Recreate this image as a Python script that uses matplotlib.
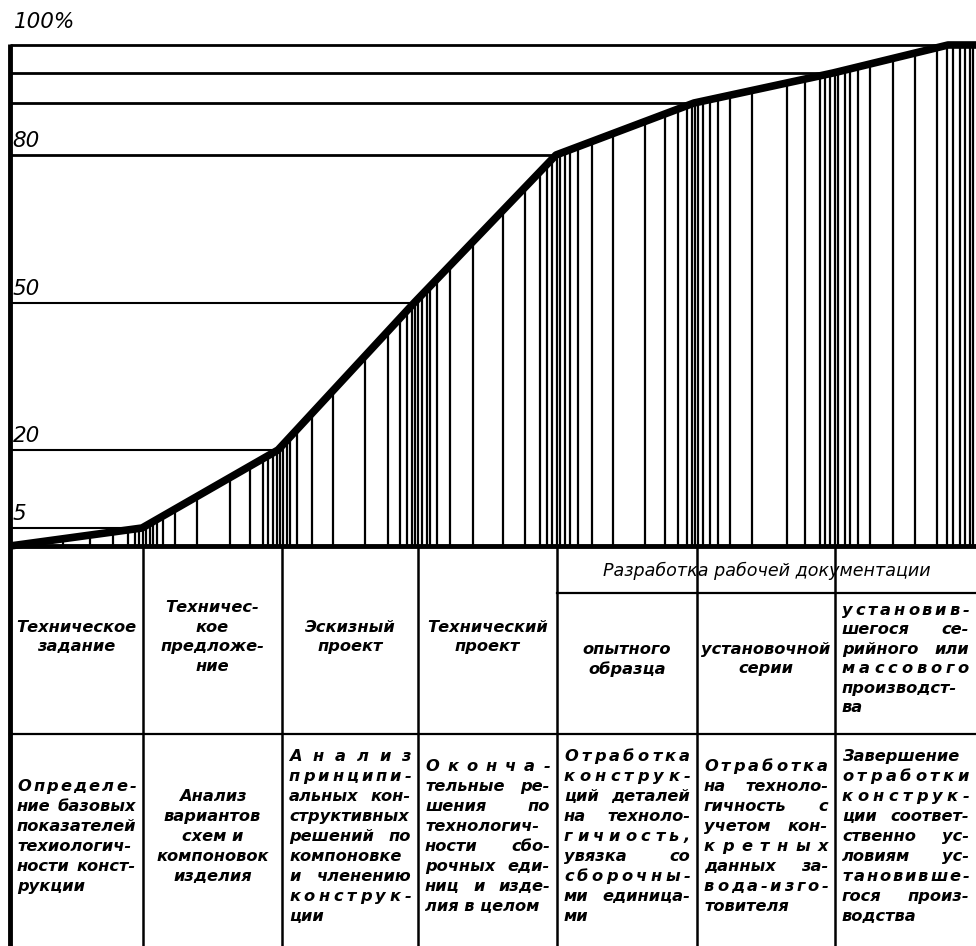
import numpy as np
import matplotlib
matplotlib.use("Agg")
import matplotlib.pyplot as plt

# ---------------- data ----------------
stage_bounds = [0, 133, 272, 408, 547, 687, 825, 966]          # stage borders (progress units)
curve_x = [0, 132, 268, 404, 546, 684, 823, 938, 966]
curve_y = [0, 5, 20, 50, 80, 90, 95, 100, 100]                  # % of technological elaboration
level_values = [0, 5, 20, 50, 80, 90, 95, 100]
level_heights = [0, 18, 96, 243, 391, 443, 473, 501]            # drawn (non-linear) height of each level
tick_values = [5, 20, 50, 80]
tick_labels = ["5", "20", "50", "80"]
top_label = "100%"
hatch_x = [53, 80, 103, 118, 125, 129, 133, 136,
           140, 143, 147, 153, 165, 187, 220, 240, 253, 258, 263, 267, 270, 273,
           277, 280, 287, 302, 323, 355, 378, 390, 397, 402, 405, 408, 412,
           417, 420, 427, 440, 463, 493, 515, 530, 537, 542, 547, 550,
           555, 560, 568, 582, 603, 635, 655, 668, 677, 682, 685, 688,
           693, 700, 708, 720, 742, 777, 795, 810, 815, 820, 825, 828,
           835, 840, 848, 860, 883, 905, 927, 937, 943, 950, 955, 960, 963]

row1_cells = [["Техническое", "задание"],
              ["Техничес-", "кое", "предложе-", "ние"],
              ["Эскизный", "проект"],
              ["Технический", "проект"]]
header_text = "Разработка рабочей документации"
row1_sub = [["опытного", "образца"],
            ["установочной", "серии"],
            ["установив-", "шегося се-", "рийного или", "массового", "производст-", "ва"]]
row2_cells = [["Определе-", "ние базовых", "показателей", "техиологич-", "ности конст-", "рукции"],
              ["Анализ", "вариантов", "схем и", "компоновок", "изделия"],
              ["Анализ", "принципи-", "альных кон-", "структивных", "решений по", "компоновке",
               "и членению", "конструк-", "ции"],
              ["Оконча-", "тельные ре-", "шения по", "технологич-", "ности сбо-", "рочных еди-",
               "ниц и изде-", "лия в целом"],
              ["Отработка", "конструк-", "ций деталей", "на техноло-", "гичиость,", "увязка со",
               "сборочны-", "ми единица-", "ми"],
              ["Отработка", "на техноло-", "гичность с", "учетом кон-", "кретных", "данных за-",
               "вода-изго-", "товителя"],
              ["Завершение", "отработки", "конструк-", "ции соответ-", "ственно ус-", "ловиям ус-",
               "тановивше-", "гося произ-", "водства"]]
row2_align = ["justify", "center", "justify", "justify", "justify", "justify", "justify"]

# ---------------- figure ----------------
W, H = 976, 946
fig = plt.figure(figsize=(W / 100, H / 100), dpi=100)
fig.patch.set_facecolor("white")

def px2fx(x):
    return x / W

def py2fy(y):
    return 1 - y / H

ax_left, ax_right, ax_top, ax_bot = 10, 976, 45, 546
ax = fig.add_axes([px2fx(ax_left), py2fy(ax_bot), (ax_right - ax_left) / W, (ax_bot - ax_top) / H])

fwd = lambda v: np.interp(v, level_values, level_heights)
inv = lambda p: np.interp(p, level_heights, level_values)
ax.set_yscale("function", functions=(fwd, inv))
ax.set_xlim(stage_bounds[0], stage_bounds[-1])
ax.set_ylim(0, 100)
ax.set_xticks([])
ax.set_yticks([])
for s in ax.spines.values():
    s.set_visible(False)

# horizontal level lines (from axis to curve)
for lv in level_values[1:]:
    if lv >= 100:
        xe = stage_bounds[-1]
    else:
        xe = float(np.interp(lv, curve_y[:-1], curve_x[:-1]))
    lw = 2.0 if lv >= 80 else 1.5
    ax.hlines(lv, 0, xe, color="black", lw=lw, clip_on=False, zorder=2)

# vertical hatching below the curve
hx = np.array(hatch_x, dtype=float)
hy = np.interp(hx, curve_x, curve_y)
ax.vlines(hx, 0, hy, color="black", lw=1.6, zorder=2)

# the curve
ax.plot(curve_x, curve_y, color="black", lw=5.5, solid_joinstyle="round",
        solid_capstyle="butt", clip_on=False, zorder=3)

# level labels
lab_kw = dict(fontfamily="DejaVu Sans", fontstyle="oblique", fontsize=15.5, color="black")
for v, t in zip(tick_values, tick_labels):
    ax.annotate(t, xy=(0, v), xytext=(2, 3), textcoords="offset points",
                ha="left", va="bottom", **lab_kw)
fig.text(px2fx(14), py2fy(22), top_label, ha="left", va="center", **lab_kw)

# ---------------- table / frame overlay ----------------
tax = fig.add_axes([0, 0, 1, 1], facecolor="none")
tax.set_xlim(0, W)
tax.set_ylim(H, 0)
tax.axis("off")

col_x = [b + ax_left for b in stage_bounds]
tax.plot([col_x[0], col_x[0]], [ax_top - 1, H], color="black", lw=3.5, solid_capstyle="butt")
tax.plot([col_x[0], W], [ax_bot, ax_bot], color="black", lw=3.5, solid_capstyle="butt")
for cx in col_x[1:-1]:
    tax.plot([cx, cx], [ax_bot, H], color="black", lw=1.8, solid_capstyle="butt")
row_line = 734
sub_line = 593
tax.plot([col_x[0], W], [row_line, row_line], color="black", lw=1.6)
tax.plot([col_x[4], W], [sub_line, sub_line], color="black", lw=1.6)

renderer = fig.canvas.get_renderer()
tkw = dict(fontfamily="DejaVu Sans", fontstyle="oblique", fontweight="bold",
           fontsize=11.7, color="black", va="center")

def twidth(s):
    t = tax.text(0, 0, s, **tkw)
    w = t.get_window_extent(renderer).width
    t.remove()
    return w

def draw_cell(lines, x0, x1, yc, align, step=20.0):
    n = len(lines)
    y = yc - step * (n - 1) / 2
    pad = 7
    xl, xr = x0 + pad, x1 - pad
    for i, line in enumerate(lines):
        last = (i == n - 1)
        if align == "center":
            tax.text((x0 + x1) / 2, y, line, ha="center", **tkw)
        elif last or align == "left":
            tax.text(xl, y, line, ha="left", **tkw)
        else:
            words = line.split()
            if len(words) > 1:
                ws = [twidth(w) for w in words]
                gap = max((xr - xl - sum(ws)) / (len(words) - 1), 4)
                x = xl
                for w, wd in zip(words, ws):
                    tax.text(x, y, w, ha="left", **tkw)
                    x += wd + gap
            else:
                chars = list(line)
                ws = [twidth(c) for c in chars]
                gap = (xr - xl - sum(ws)) / max(len(chars) - 1, 1)
                if gap < 1.5:
                    tax.text(xl, y, line, ha="left", **tkw)
                else:
                    x = xl
                    for c, wd in zip(chars, ws):
                        tax.text(x, y, c, ha="left", **tkw)
                        x += wd + gap
        y += step

# row 1
for i, lines in enumerate(row1_cells):
    draw_cell(lines, col_x[i], col_x[i + 1], 637, "center", step=19.5)
tax.text((col_x[4] + W) / 2, 571, header_text, ha="center", va="center",
         fontfamily="DejaVu Sans", fontstyle="oblique", fontsize=12.6, color="black")
for j, lines in enumerate(row1_sub):
    i = 4 + j
    draw_cell(lines, col_x[i], col_x[i + 1] if i + 1 < len(col_x) else W, 659,
              "justify" if j == 2 else "center", step=19.5)

# row 2
for i, lines in enumerate(row2_cells):
    draw_cell(lines, col_x[i], col_x[i + 1], 836, row2_align[i], step=20.0)

fig.savefig("out.png", dpi=100, facecolor="white")
